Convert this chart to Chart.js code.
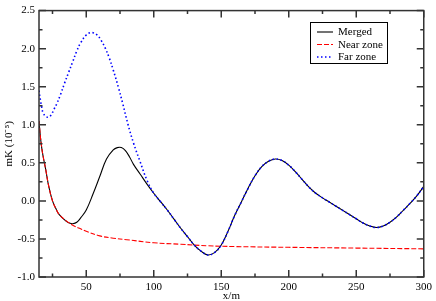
<!DOCTYPE html>
<html>
<head>
<meta charset="utf-8">
<script src="https://cdn.jsdelivr.net/npm/chart.js@4"></script>
<style>
html, body { margin: 0; padding: 0; background: #fff; }
</style>
</head>
<body>
<canvas id="chart" width="436" height="301"></canvas>
<script>
// tick positions
const xTicks = [25, 50, 75, 100, 125, 150, 175, 200, 225, 250, 275, 300];
const yTicks = [-1, -0.75, -0.5, -0.25, 0, 0.25, 0.5, 0.75, 1, 1.25, 1.5, 1.75, 2, 2.25, 2.5];

// near zone (red dashed)
const nearX = [15, 16, 17, 18, 19, 20, 22, 25, 28, 30, 35, 40, 45, 50, 60, 70, 80, 100, 120, 140, 160, 200, 250, 300];
const nearY = [1.05, 0.85, 0.7, 0.59, 0.5, 0.41, 0.21, 0.0, -0.12, -0.18, -0.26, -0.32, -0.36, -0.40, -0.46, -0.49, -0.51, -0.55, -0.57, -0.59, -0.60, -0.61, -0.62, -0.63];

// merged (black)
const mergedX = [15, 16, 17, 18, 19, 20, 22, 25, 28, 30, 35, 38, 40, 43, 46, 50, 55, 60, 65, 70, 73, 76, 79, 82, 85, 90, 95, 100,
  105, 110, 115, 120, 125, 130, 135, 140, 145, 150, 155, 160, 165, 170, 175, 180, 185, 190, 195, 200, 205, 210, 215, 220,
  225, 230, 235, 240, 245, 250, 255, 260, 265, 270, 275, 280, 285, 290, 295, 300];
const mergedY = [1.05, 0.85, 0.7, 0.59, 0.5, 0.41, 0.21, 0.0, -0.12, -0.18, -0.265, -0.295, -0.30, -0.28, -0.22, -0.12, 0.09, 0.32, 0.55, 0.67, 0.70, 0.70, 0.66, 0.58, 0.48, 0.35, 0.22, 0.10,
  -0.01, -0.12, -0.24, -0.36, -0.47, -0.58, -0.66, -0.71, -0.68, -0.58, -0.40, -0.19, -0.01, 0.17, 0.33, 0.45, 0.52, 0.55, 0.53, 0.47, 0.38, 0.28, 0.18, 0.10,
  0.04, -0.015, -0.07, -0.125, -0.18, -0.235, -0.29, -0.33, -0.35, -0.33, -0.28, -0.21, -0.12, -0.03, 0.07, 0.19];

// far zone (blue dotted)
const farX = [15, 16, 17, 18, 20, 22, 24, 26, 28, 31, 34, 37, 40, 43, 46, 50, 53, 55, 58, 61, 64, 67, 70, 74, 77, 81, 85, 90, 95, 100,
  105, 110, 115, 120, 125, 130, 135, 140, 145, 150, 155, 160, 165, 170, 175, 180, 185, 190, 195, 200, 205, 210, 215, 220,
  225, 230, 235, 240, 245, 250, 255, 260, 265, 270, 275, 280, 285, 290, 295, 300];
const farY = [1.45, 1.33, 1.23, 1.16, 1.11, 1.10, 1.13, 1.2, 1.27, 1.40, 1.55, 1.69, 1.83, 1.97, 2.08, 2.18, 2.21, 2.21, 2.18, 2.11, 2.01, 1.88, 1.72, 1.48, 1.28, 1.00, 0.76, 0.51, 0.27, 0.10,
  -0.01, -0.12, -0.24, -0.36, -0.47, -0.58, -0.66, -0.71, -0.68, -0.58, -0.40, -0.19, -0.01, 0.17, 0.33, 0.45, 0.52, 0.55, 0.53, 0.47, 0.38, 0.28, 0.18, 0.10,
  0.04, -0.015, -0.07, -0.125, -0.18, -0.235, -0.29, -0.33, -0.35, -0.33, -0.28, -0.21, -0.12, -0.03, 0.07, 0.19];

function toPoints(xs, ys) {
    return xs.map((x, i) => ({x: x, y: ys[i]}));
}

const FONT = "'Liberation Serif', 'Times New Roman', serif";

// frame, inward ticks on all four sides, and the boxed legend
const framePlugin = {
    id: 'frame',
    afterDatasetsDraw(chart) {
        const {ctx, chartArea: a, scales} = chart;
        ctx.save();
        ctx.strokeStyle = '#333';
        ctx.lineWidth = 1.5;
        ctx.beginPath();
        xTicks.forEach(v => {
            const px = scales.x.getPixelForValue(v);
            const len = v % 50 === 0 ? 7 : 3.5;
            ctx.moveTo(px, a.bottom); ctx.lineTo(px, a.bottom - len);
            ctx.moveTo(px, a.top); ctx.lineTo(px, a.top + len);
        });
        yTicks.forEach((v, i) => {
            const py = scales.y.getPixelForValue(v);
            const len = i % 2 === 0 ? 7 : 3.5;
            ctx.moveTo(a.left, py); ctx.lineTo(a.left + len, py);
            ctx.moveTo(a.right, py); ctx.lineTo(a.right - len, py);
        });
        ctx.stroke();
        ctx.strokeRect(a.left, a.top, a.right - a.left, a.bottom - a.top);

        // legend
        const bx = 310, by = 22, bw = 77, bh = 41;
        ctx.fillStyle = '#fff';
        ctx.fillRect(bx, by, bw, bh);
        ctx.lineWidth = 1;
        ctx.strokeStyle = '#000';
        ctx.strokeRect(bx + 0.5, by + 0.5, bw, bh);
        ctx.font = '11px ' + FONT;
        ctx.textBaseline = 'middle';
        ctx.textAlign = 'left';
        chart.data.datasets.forEach((ds, i) => {
            const y = by + 10 + i * 12.5;
            ctx.beginPath();
            ctx.strokeStyle = ds.borderColor;
            ctx.lineWidth = ds.borderWidth;
            ctx.setLineDash(ds.borderDash || []);
            ctx.moveTo(bx + 7, y);
            ctx.lineTo(bx + 23, y);
            ctx.stroke();
            ctx.setLineDash([]);
            ctx.fillStyle = '#000';
            ctx.fillText(ds.label, bx + 28, y + 0.5);
        });
        ctx.restore();
    }
};

new Chart(document.getElementById('chart'), {
    type: 'line',
    data: {
        datasets: [
            {
                label: 'Merged',
                data: toPoints(mergedX, mergedY),
                borderColor: '#000000',
                borderWidth: 1.1,
                order: 2
            },
            {
                label: 'Near zone',
                data: toPoints(nearX, nearY),
                borderColor: '#ff0000',
                borderWidth: 1.1,
                borderDash: [5, 2],
                order: 1
            },
            {
                label: 'Far zone',
                data: toPoints(farX, farY),
                borderColor: '#0000ff',
                borderWidth: 1.6,
                borderDash: [1.5, 2.5],
                order: 0
            }
        ]
    },
    options: {
        responsive: false,
        animation: false,
        layout: {
            padding: {top: 5, right: 9, left: 0, bottom: 0}
        },
        elements: {
            point: {radius: 0},
            line: {tension: 0.4}
        },
        scales: {
            x: {
                type: 'linear',
                min: 15,
                max: 300,
                afterBuildTicks: scale => { scale.ticks = xTicks.map(v => ({value: v})); },
                afterFit: scale => { scale.height = 24; },
                grid: {display: false, drawTicks: false},
                border: {display: false},
                ticks: {
                    padding: 4,
                    maxRotation: 0,
                    autoSkip: false,
                    color: '#000',
                    font: {family: FONT, size: 11},
                    callback: v => (v % 50 === 0 ? String(v) : '')
                },
                title: {
                    display: true,
                    text: 'x/m',
                    color: '#000',
                    font: {family: FONT, size: 11, lineHeight: 1},
                    padding: {top: 0, bottom: -1}
                }
            },
            y: {
                min: -1,
                max: 2.5,
                afterBuildTicks: scale => { scale.ticks = yTicks.map(v => ({value: v})); },
                afterFit: scale => { scale.width = 39; },
                grid: {display: false, drawTicks: false},
                border: {display: false},
                ticks: {
                    padding: 4,
                    autoSkip: false,
                    color: '#000',
                    font: {family: FONT, size: 11},
                    callback: (v, i) => (i % 2 === 0 ? v.toFixed(1) : '')
                },
                title: {
                    display: true,
                    text: 'mK (10\u207B\u2075)',
                    color: '#000',
                    font: {family: FONT, size: 11, lineHeight: 1},
                    padding: {top: 4, bottom: 0}
                }
            }
        },
        plugins: {
            legend: {display: false},
            tooltip: {enabled: false}
        }
    },
    plugins: [framePlugin]
});
</script>
</body>
</html>
